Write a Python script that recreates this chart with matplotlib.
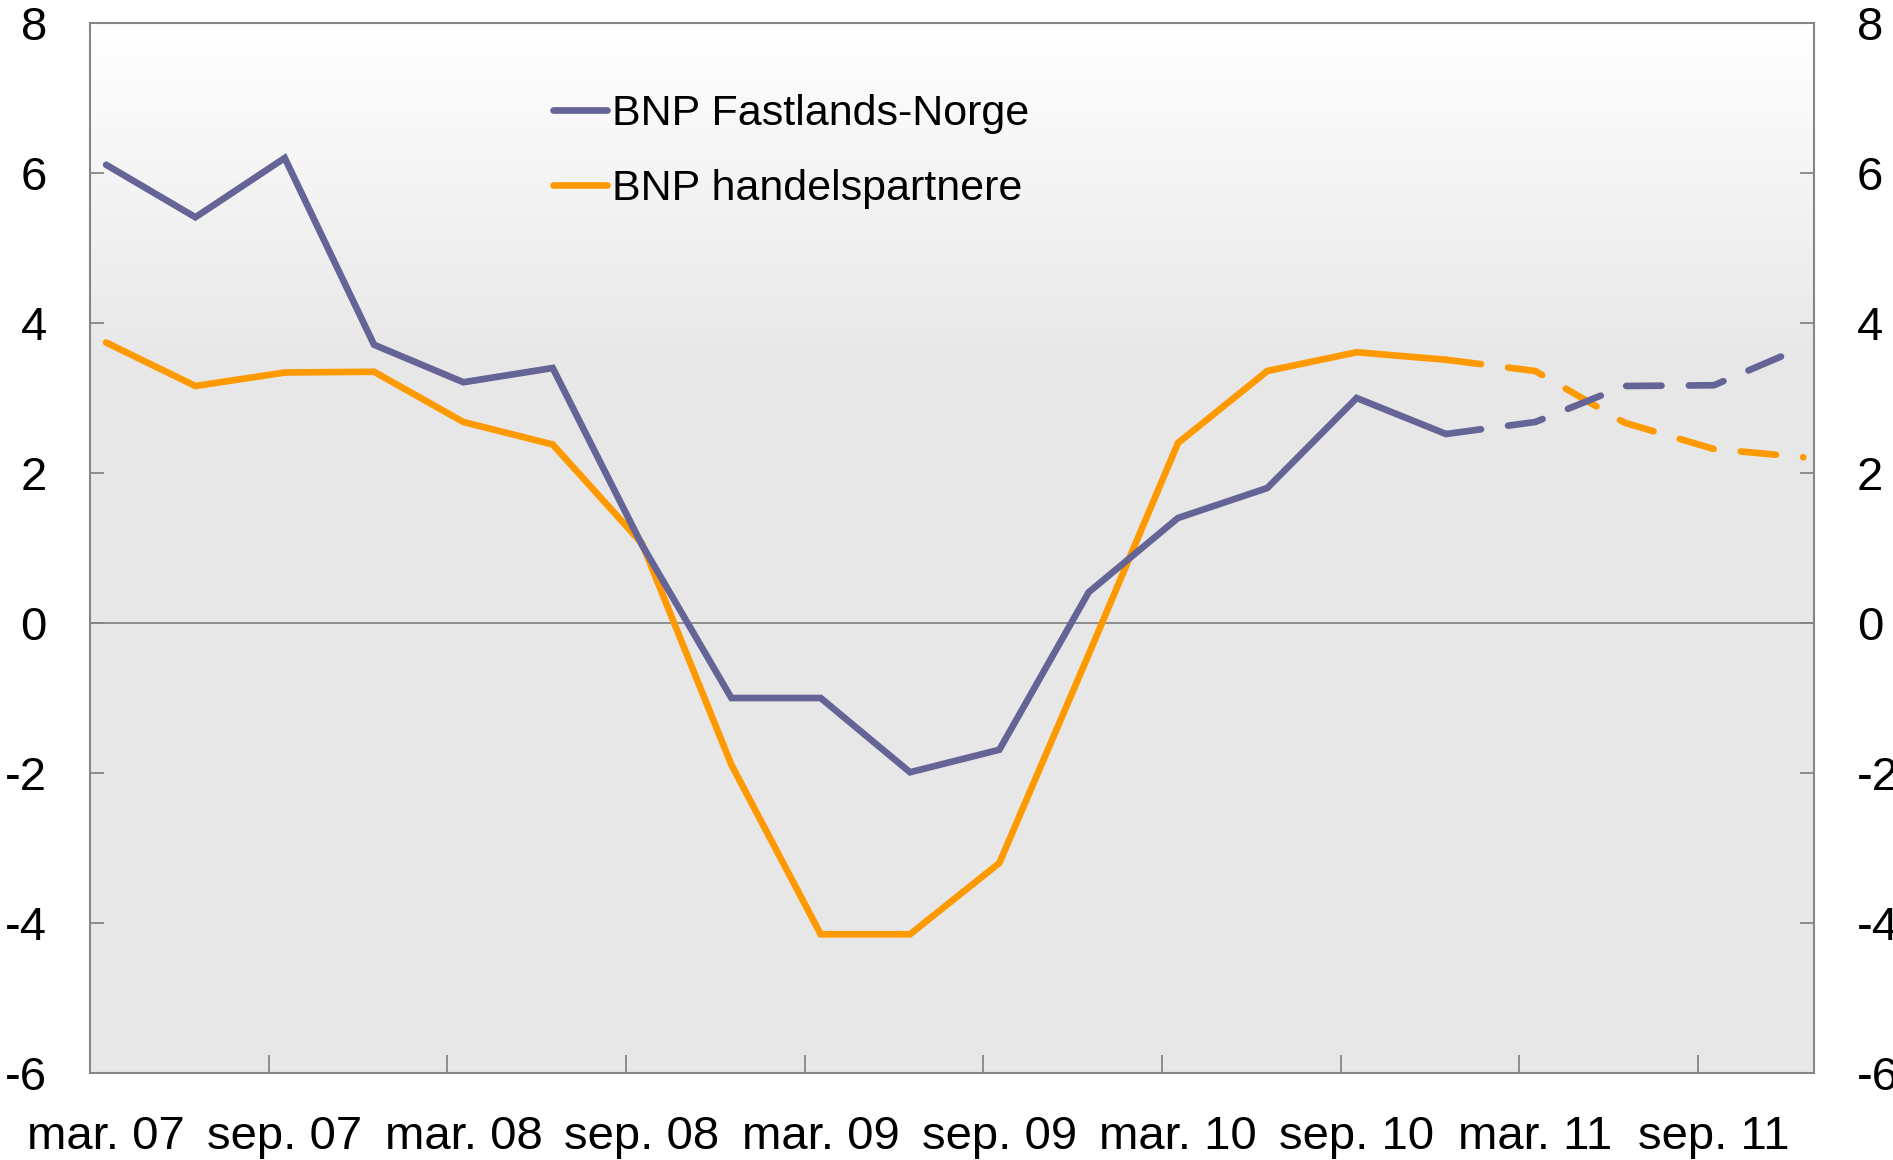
import numpy as np
import matplotlib
matplotlib.use('Agg')
import matplotlib.pyplot as plt
from matplotlib.colors import LinearSegmentedColormap

plt.rcParams['font.family'] = ['Liberation Sans', 'DejaVu Sans']

# ===================== 数据 =====================
quarters = ['mar. 07', 'jun. 07', 'sep. 07', 'des. 07',
            'mar. 08', 'jun. 08', 'sep. 08', 'des. 08',
            'mar. 09', 'jun. 09', 'sep. 09', 'des. 09',
            'mar. 10', 'jun. 10', 'sep. 10', 'des. 10',
            'mar. 11', 'jun. 11', 'sep. 11', 'des. 11']
bnp_fastland = [6.11, 5.41, 6.20, 3.71, 3.21, 3.40, 1.04, -1.00, -1.00, -1.99,
                -1.69, 0.41, 1.40, 1.80, 3.00, 2.52, 2.68, 3.16, 3.17, 3.68]
bnp_handel = [3.74, 3.16, 3.34, 3.35, 2.68, 2.38, 1.06, -1.89, -4.15, -4.15,
              -3.20, -0.42, 2.40, 3.36, 3.61, 3.51, 3.36, 2.67, 2.32, 2.21]
forecast_start = 15  # des. 10 -> prognose
y_ticks = [-6, -4, -2, 0, 2, 4, 6, 8]

BLUE = '#646496'
ORANGE = '#ff9900'
GREY = '#868686'
FS_TICK = 34
FS_LEG = 31

x = np.arange(len(quarters))
fb = np.array(bnp_fastland)
fh = np.array(bnp_handel)

fig = plt.figure(figsize=(18.93, 11.60), dpi=100)
ax = fig.add_axes([90 / 1893, 1 - 1073 / 1160, 1724 / 1893, 1050 / 1160])

# bakgrunn: gradient fra hvit til lys grå
grad = np.concatenate([np.zeros(67), np.linspace(0, 1, 33)])[:, None]
cmap = LinearSegmentedColormap.from_list('bg', ['#e7e7e7', '#ffffff'])
ax.imshow(grad, cmap=cmap, aspect='auto', origin='lower',
          extent=[0, 1, 0, 1], transform=ax.transAxes, zorder=0)

ax.axhline(0, color=GREY, lw=1.3, zorder=1)

lw = 4.8
kw = dict(lw=lw, solid_capstyle='round', dash_capstyle='round', solid_joinstyle='miter')
ax.plot(x[:forecast_start + 1], fb[:forecast_start + 1], color=BLUE, label='BNP Fastlands-Norge', zorder=3, **kw)
ax.plot(x[:forecast_start + 1], fh[:forecast_start + 1], color=ORANGE, label='BNP handelspartnere', zorder=2, **kw)
ax.plot(x[forecast_start:], fb[forecast_start:], color=BLUE, dashes=(5.3, 4.1), zorder=3, **kw)
ax.plot(x[forecast_start:], fh[forecast_start:], color=ORANGE, dashes=(5.3, 4.1), zorder=2, **kw)

# x-akse: etiketter hvert halvår, små streker mellom
ax.set_xticks(x[::2])
ax.set_xticklabels(quarters[::2], fontsize=FS_TICK)
ax.set_xticks(x[:-2:2] + 1.82, minor=True)
ax.tick_params(axis='x', which='major', length=0, pad=30)
ax.tick_params(axis='x', which='minor', length=13, width=1.3, color=GREY, direction='in')

ax.set_yticks(y_ticks)
ax.set_yticklabels([str(v) for v in y_ticks], fontsize=FS_TICK)
ax.tick_params(axis='y', which='major', length=10, width=1.3, color=GREY,
               direction='in', left=True, right=True, labelleft=True, labelright=True, pad=31)

ax.set_xlim(-0.18, 19.12)
ax.set_ylim(-6, 8)

for s in ax.spines.values():
    s.set_color(GREY)
    s.set_linewidth(1.5)

leg = ax.legend(loc='upper left', bbox_to_anchor=(0.2686, 0.932), frameon=False,
                fontsize=FS_LEG, handlelength=1.25, handletextpad=0.12, labelspacing=0.81,
                borderpad=0, borderaxespad=0)

fig.savefig('out.png', dpi=100)
